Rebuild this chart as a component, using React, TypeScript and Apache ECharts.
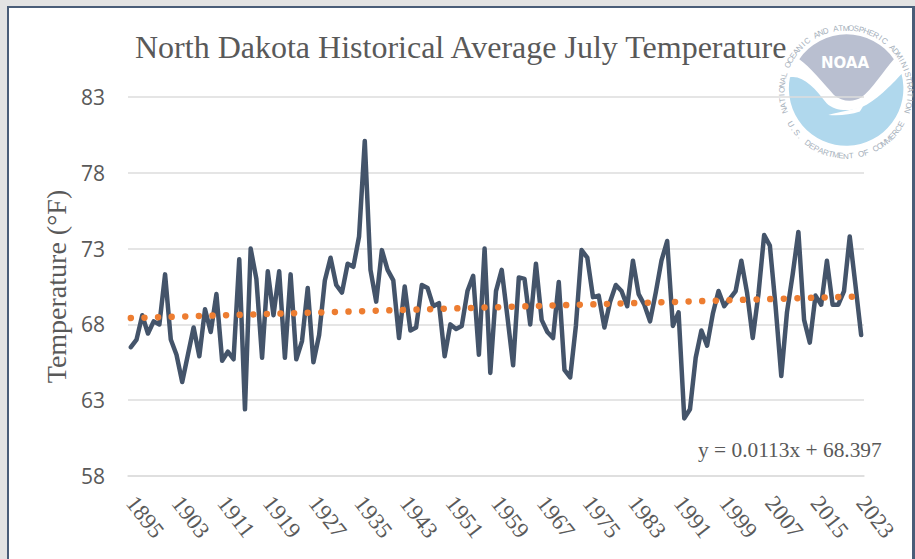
import React, { useEffect, useRef } from "react";
import * as echarts from "echarts";

const startYear = 1895;
const temps = [
  66.5, 67.0, 68.6, 67.4, 68.2, 68.0, 71.3, 67.0, 66.0, 64.2,
  66.0, 67.8, 65.9, 69.0, 67.5, 70.0, 65.6, 66.2, 65.7, 72.3,
  62.4, 73.0, 71.0, 65.8, 71.5, 68.6, 71.5, 65.8, 71.3, 65.7,
  66.9, 70.4, 65.5, 67.3, 70.9, 72.4, 70.6, 70.1, 72.0, 71.8,
  73.8, 80.1, 71.6, 69.5, 72.9, 71.6, 70.9, 67.1, 70.5, 67.6,
  67.8, 70.6, 70.4, 69.2, 69.4, 65.9, 68.0, 67.7, 67.9, 70.2,
  71.2, 66.0, 73.0, 64.8, 70.2, 71.6, 68.5, 65.3, 71.1, 71.0,
  68.0, 72.0, 68.3, 67.5, 67.1, 70.8, 65.0, 64.5, 67.9, 72.9,
  72.4, 69.8, 69.9, 67.8, 69.5, 70.6, 70.2, 69.2, 72.2, 70.0,
  69.3, 68.2, 70.1, 72.2, 73.5, 67.9, 68.8, 61.8, 62.4, 65.8,
  67.6, 66.6, 68.7, 70.2, 69.2, 69.7, 70.2, 72.2, 70.1, 67.1,
  70.0, 73.9, 73.2, 69.2, 64.6, 68.8, 71.3, 74.1, 68.3, 66.8,
  69.9, 69.3, 72.2, 69.3, 69.3, 70.2, 73.8, 70.6, 67.3,
];
const years = temps.map((_, i) => String(startYear + i));
const trendStart = 68.42;
const trendEnd = 69.85;
const trend: (number | null)[] = temps.map((_, i) =>
  i === 0 ? trendStart : i === temps.length - 1 ? trendEnd : null
);
const yTicks = [58, 63, 68, 73, 78, 83];
const titleText = "North Dakota Historical Average July Temperature";
const yName = "Temperature (°F)";
const equation = "y = 0.0113x + 68.397";
const ringTop = "NATIONAL OCEANIC AND ATMOSPHERIC ADMINISTRATION";
const ringBottom = "U.S. DEPARTMENT OF COMMERCE";

const SERIF = '"Liberation Serif", serif';
const INK = "#595959";

echarts.graphic.registerShape(
  "noaaBlue",
  echarts.graphic.extendPath(
    "M 90 232 C 130 225 165 265 200 310 C 225 335 270 335 305 322 C 345 305 395 255 425 222 A 172 172 0 1 1 90 232 Z",
    {}
  )
);
echarts.graphic.registerShape(
  "noaaGrey",
  echarts.graphic.extendPath(
    "M 118 178 A 172 172 0 0 1 402 178 C 370 215 335 270 305 292 C 280 308 245 305 222 285 C 190 250 150 200 118 178 Z",
    {}
  )
);
echarts.graphic.registerShape(
  "noaaTail",
  echarts.graphic.extendPath(
    "M 205 345 C 240 335 280 330 310 318 L 300 335 C 270 345 235 348 205 345 Z",
    {}
  )
);

function ringLetters(text: string, from: number, to: number, top: boolean) {
  const cx = 846;
  const cy = 92;
  const r = 64;
  const n = text.length;
  return text.split("").map((ch, i) => {
    const deg = from + ((to - from) * (i + 0.5)) / n;
    const a = (deg * Math.PI) / 180;
    return {
      type: "text",
      z: -1,
      silent: true,
      x: cx + r * Math.sin(a),
      y: top ? cy - r * Math.cos(a) : cy + r * Math.cos(a),
      rotation: top ? -a : a,
      style: {
        text: ch,
        font: '8px "Liberation Sans", sans-serif',
        fill: "#A6B0BB",
        textAlign: "center",
        textVerticalAlign: "middle",
      },
    };
  });
}

function logo() {
  const base = { x: 760, y: 0, scaleX: 1 / 3, scaleY: 1 / 3, z: -1, silent: true };
  return [
    { type: "noaaBlue", ...base, style: { fill: "#B0D8ED" } },
    { type: "noaaGrey", ...base, style: { fill: "#B9BFD0" } },
    { type: "noaaTail", ...base, style: { fill: "#FFFFFF" } },
    {
      type: "text",
      z: -1,
      silent: true,
      x: 845,
      y: 63,
      style: {
        text: "NOAA",
        font: 'bold 15px "DejaVu Sans", sans-serif',
        fill: "#FFFFFF",
        textAlign: "center",
        textVerticalAlign: "middle",
      },
    },
    ...ringLetters(ringTop, -109, 109, true),
    ...ringLetters(ringBottom, -62, 62, false),
  ];
}

function frame() {
  const grey = "#E3E3E3";
  const blue = "#4A5D78";
  const rect = (x: number, y: number, width: number, height: number, fill: string) => ({
    type: "rect",
    z: -2,
    silent: true,
    shape: { x, y, width, height },
    style: { fill },
  });
  return [
    rect(0, 0, 915, 6, grey),
    rect(0, 0, 7, 559, grey),
    rect(7, 6, 906, 2, blue),
    rect(7, 6, 2, 553, blue),
    rect(912, 6, 3, 553, blue),
  ];
}

export default function App() {
  const ref = useRef<HTMLDivElement>(null);
  useEffect(() => {
    const chart = echarts.init(ref.current!, undefined, { renderer: "svg" });
    chart.setOption({
      animation: false,
      backgroundColor: "#FFFFFF",
      title: {
        text: titleText,
        left: 130,
        top: 26,
        textStyle: { fontFamily: SERIF, fontSize: 32, fontWeight: "normal", color: INK },
      },
      grid: { left: 128, right: 51, top: 97, bottom: 83 },
      xAxis: {
        type: "category",
        data: years,
        boundaryGap: true,
        axisLine: { show: true, lineStyle: { color: "#DDDDDD", width: 1.5 } },
        axisTick: { show: false },
        axisLabel: {
          interval: 7,
          rotate: -52,
          margin: 23,
          fontFamily: SERIF,
          fontSize: 23,
          color: INK,
        },
      },
      yAxis: {
        type: "value",
        min: 58,
        max: 83,
        name: yName,
        nameLocation: "middle",
        nameGap: 56,
        nameTextStyle: { fontFamily: SERIF, fontSize: 28, color: INK },
        axisLine: { show: false },
        axisTick: { show: false, customValues: yTicks },
        axisLabel: {
          customValues: yTicks,
          margin: 23,
          fontFamily: '"Open Sans", sans-serif',
          fontSize: 21,
          color: INK,
        },
        splitLine: { show: true, lineStyle: { color: "#DDDDDD", width: 1.5 } },
      },
      series: [
        {
          name: "Temperature",
          type: "line",
          data: temps,
          symbol: "none",
          z: 3,
          lineStyle: { color: "#44546A", width: 4.5, join: "round", cap: "round" },
        },
        {
          name: "Trend",
          type: "line",
          data: trend,
          connectNulls: true,
          symbol: "none",
          z: 4,
          lineStyle: { color: "#ED7D31", width: 6.5, type: [0.01, 13.6], cap: "round" },
        },
      ],
      graphic: [
        ...frame(),
        ...logo(),
        {
          type: "text",
          x: 698,
          y: 450,
          silent: true,
          style: {
            text: equation,
            font: `21.4px ${SERIF}`,
            fill: INK,
            textVerticalAlign: "middle",
          },
        },
      ],
    });
    return () => chart.dispose();
  }, []);
  return (
    <div
      ref={ref}
      style={{ position: "fixed", left: 0, top: 0, width: 915, height: 559 }}
    />
  );
}
